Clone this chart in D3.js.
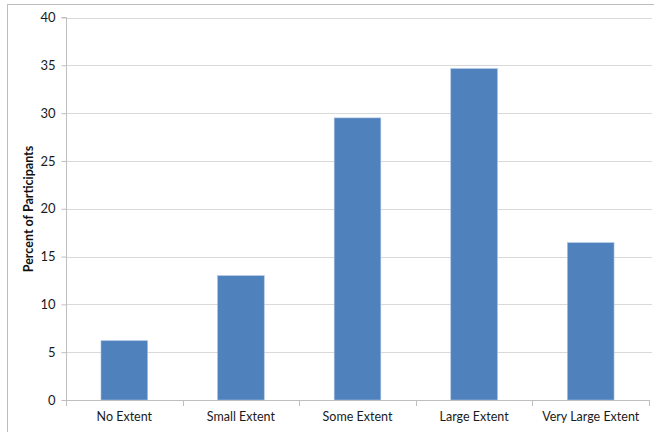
<!DOCTYPE html>
<html><head><meta charset="utf-8">
<script src="https://cdn.jsdelivr.net/npm/d3@7"></script>
<style>body{margin:0;background:#fff}svg{display:block}text{font-family:Lato,"Open Sans",sans-serif}</style>
</head><body><div id="chart"></div>
<script>
const categories = ["No Extent","Small Extent","Some Extent","Large Extent","Very Large Extent"];
const values = [6.2, 13.0, 29.5, 34.65, 16.45];
const yTicks = [0,5,10,15,20,25,30,35,40];
const yTitle = "Percent of Participants";

const W=654,H=432;
const svg=d3.select("#chart").append("svg").attr("width",W).attr("height",H);
svg.append("rect").attr("x",7.5).attr("y",4.5).attr("width",660).attr("height",440)
  .attr("fill","none").attr("stroke","#bdbdbd");
const m={l:66,r:649,t:17.5,b:400};
const x=d3.scaleBand().domain(categories).range([m.l,m.r]).paddingInner(0.6).paddingOuter(0.3);
const y=d3.scaleLinear().domain([0,40]).range([m.b,m.t]);
// gridlines
svg.append("g").selectAll("line").data(yTicks.filter(d=>d>0)).join("line")
  .attr("x1",m.l).attr("x2",652).attr("y1",d=>Math.round(y(d))+0.5).attr("y2",d=>Math.round(y(d))+0.5)
  .attr("stroke","#d9d9d9").attr("stroke-width",1);
// bars
svg.append("g").selectAll("rect").data(values).join("rect")
  .attr("x",(d,i)=>x(categories[i])).attr("width",x.bandwidth())
  .attr("y",d=>y(d)).attr("height",d=>y(0)-y(d))
  .attr("fill","#4f81bd").attr("stroke","#a8c1e0").attr("stroke-width",0.6);
// y axis
const ya=svg.append("g").attr("transform",`translate(${m.l+0.5},0)`)
  .call(d3.axisLeft(y).tickValues(yTicks).tickSize(5).tickPadding(6));
ya.select(".domain").attr("stroke","#bfbfbf").attr("d",`M-5,${y(40)}H0V${y(0)}`);
ya.selectAll(".tick line").attr("stroke","#bfbfbf");
ya.selectAll(".tick text").attr("font-size",13).attr("fill","#1a1a1a").attr("font-family","Lato,sans-serif");
// x axis
const xa=svg.append("g").attr("transform",`translate(0,${m.b+0.5})`)
  .call(d3.axisBottom(x).tickSize(0).tickPadding(12));
xa.select(".domain").attr("stroke","#bfbfbf").attr("d",`M${m.l},0H${m.r}`);
xa.selectAll(".tick text").attr("font-size",12.5).attr("fill","#1a1a1a").attr("font-family","Lato,sans-serif");
// category boundary ticks
const bounds=d3.range(categories.length+1).map(i=>m.l+i*(m.r-m.l)/categories.length);
svg.append("g").selectAll("line").data(bounds).join("line")
  .attr("x1",d=>Math.round(d)+0.5).attr("x2",d=>Math.round(d)+0.5).attr("y1",m.b).attr("y2",m.b+6)
  .attr("stroke","#bfbfbf");
svg.append("text").attr("transform",`translate(33,209) rotate(-90)`).attr("text-anchor","middle")
  .attr("font-size",12.5).attr("font-weight","bold").attr("fill","#111").text(yTitle);
</script></body></html>
